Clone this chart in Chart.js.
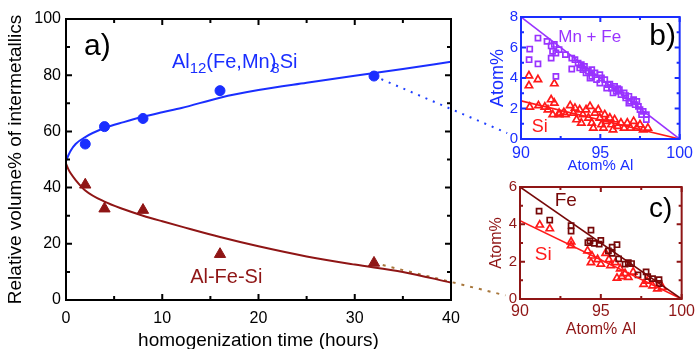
<!DOCTYPE html>
<html>
<head>
<meta charset="utf-8">
<script src="https://cdn.jsdelivr.net/npm/chart.js@4.4.1/dist/chart.umd.min.js"></script>
<style>
  html, body { margin: 0; padding: 0; background: #fff; }
  #wrap { position: relative; width: 698px; height: 349px; overflow: hidden; }
  canvas { position: absolute; }
  #mainChart { left: 0; top: 0; }
  #insetB { left: 470px; top: 0; }
  #insetC { left: 470px; top: 175px; }
</style>
</head>
<body>
<div id="wrap">
  <canvas id="mainChart" width="698" height="349"></canvas>
  <canvas id="insetB" width="228" height="175"></canvas>
  <canvas id="insetC" width="228" height="174"></canvas>
</div>
<script>
// panel a) measured volume fractions
var sampleHours = [2, 4, 8, 16, 32];
var alFeMnSiMeasured = [55.5, 61.7, 64.6, 74.5, 79.7];
var alFeSiMeasured = [41, 32.5, 32, 16.3, 13.2];

// panel a) fitted curves
var fitHours = [0, 0.25, 0.5, 1, 2, 4, 6, 8, 10, 12, 16, 20, 25, 30, 35, 40];
var alFeMnSiFit = [49.5, 51.5, 53.2, 55.5, 58.0, 61.2, 63.3, 65.2, 66.8, 68.3, 72.0, 74.7, 77.3, 79.8, 82.2, 84.8];
var alFeSiFit = [48.5, 46.5, 45, 42.7, 39.0, 35.0, 32.3, 30.0, 28.0, 26.1, 22.4, 19.1, 15.5, 12.6, 10.0, 6.2];

// panel b) Al12(Fe,Mn)3Si particles
var bMnFeAl = [91.07, 90.55, 90.51, 91.07, 92.2, 93.2, 91.64, 91.9, 92.1, 91.99, 92.2, 91.9, 92.4, 92.8, 93.2, 93.4, 93.6, 93.8, 93.9, 94.0, 94.25, 94.46, 94.46, 94.66, 94.76, 94.97, 94.97, 95.28, 95.5, 95.6, 95.7, 95.9, 96.0, 96.2, 96.3, 96.5, 96.6, 96.8, 96.9, 97.1, 97.2, 97.4, 97.5, 97.7, 97.9, 94.1, 93.7, 94.35, 95.07, 95.4, 95.8, 96.1, 96.6, 96.8, 97.3, 97.6, 97.9];
var bMnFe = [6.62, 5.9, 5.2, 4.92, 4.11, 4.59, 6.4, 6.1, 6.2, 5.75, 5.64, 5.3, 5.86, 5.53, 5.3, 5.2, 4.98, 4.87, 4.55, 4.76, 4.44, 4.55, 4.11, 4.33, 3.89, 4.22, 3.67, 3.89, 3.56, 3.6, 3.34, 3.45, 3.13, 3.23, 2.91, 3.02, 2.69, 2.8, 2.47, 2.58, 2.25, 2.14, 1.92, 1.81, 1.6, 4.33, 4.66, 4.0, 4.0, 3.34, 3.02, 3.3, 2.85, 2.36, 2.47, 1.6, 1.27];
var bSiAl = [90.5, 90.5, 91.07, 92.1, 90.55, 91.1, 91.5, 91.9, 92.1, 91.7, 92.0, 92.4, 92.8, 93.1, 93.3, 93.5, 93.7, 93.9, 94.1, 94.25, 94.35, 94.46, 94.66, 94.87, 94.97, 95.07, 95.28, 95.38, 95.6, 95.7, 95.9, 96.1, 96.3, 96.5, 96.7, 96.9, 97.1, 97.3, 97.5, 97.7, 98.0, 93.4, 93.8, 94.56, 95.2, 95.8, 92.4, 92.7];
var bSi = [4.15, 3.5, 3.9, 3.63, 2.1, 2.19, 2.1, 2.58, 2.36, 1.92, 1.6, 1.6, 1.6, 2.19, 1.7, 1.27, 1.92, 1.6, 1.92, 1.38, 2.14, 1.05, 1.7, 1.92, 1.38, 0.94, 1.6, 1.16, 1.38, 0.94, 1.27, 0.83, 1.05, 0.72, 1.05, 0.72, 1.16, 0.72, 0.94, 0.61, 0.72, 2.03, 1.05, 0.72, 0.72, 0.61, 1.7, 1.75];
var bLineAl = [90, 100];
var bMnFeLine = [8, 0];
var bSiLine = [2.5, 0];

// panel c) Al-Fe-Si particles
var cFeAl = [91.18, 91.84, 93.16, 93.16, 94.39, 94.33, 94.6, 95.0, 94.9, 95.47, 95.7, 96.0, 95.7, 96.1, 96.7, 96.9, 96.5, 97.8, 97.9, 98.6, 98.2, 98.6, 94.2, 97.3];
var cFe = [4.71, 4.23, 3.93, 3.64, 3.69, 3.11, 2.98, 3.14, 2.94, 2.58, 2.78, 2.91, 2.45, 2.15, 1.95, 1.9, 1.87, 1.45, 1.2, 1.04, 1.09, 0.83, 3.02, 1.29];
var cSiAl = [91.22, 91.84, 93.16, 93.16, 94.18, 94.45, 94.39, 94.8, 95.0, 95.5, 95.6, 95.9, 96.0, 96.2, 96.5, 96.7, 97.0, 97.65, 97.86, 98.2, 98.5, 98.8, 95.3, 96.3];
var cSi = [3.97, 3.77, 3.07, 2.86, 2.58, 2.31, 1.95, 2.12, 1.87, 2.12, 1.79, 1.95, 1.12, 1.62, 1.37, 1.16, 1.45, 0.79, 0.96, 0.71, 0.55, 0.63, 2.45, 1.2];
var cLineAl = [90, 100];
var cFeLine = [6, 0];
var cSiLine = [4.2, 0];

var FONT = '"Liberation Sans", Arial, sans-serif';
var BLUE = '#1a2eff';
var MAROON = '#8f1515';
var DARK = '#760808';
var PURPLE = '#9933ff';
var RED = '#ff1a1a';

function xy(xs, ys) {
  return xs.map(function (x, i) { return {x: x, y: ys[i]}; });
}

// box around the plot with inward ticks on all four sides
function makeFrame(o) {
  return {
    id: 'frame',
    afterDatasetsDraw: function (chart) {
      var ctx = chart.ctx, a = chart.chartArea, sx = chart.scales.x, sy = chart.scales.y;
      ctx.save();
      ctx.strokeStyle = o.color;
      ctx.lineWidth = o.width;
      ctx.strokeRect(a.left, a.top, a.right - a.left, a.bottom - a.top);
      ctx.beginPath();
      var v, len, p, k;
      for (k = 0; sx.min + k * o.minorX <= sx.max + 1e-9; k++) {
        v = sx.min + k * o.minorX;
        len = (k % o.everyX === 0) ? o.majorLen : o.minorLen;
        p = sx.getPixelForValue(v);
        ctx.moveTo(p, a.bottom); ctx.lineTo(p, a.bottom - len);
        ctx.moveTo(p, a.top); ctx.lineTo(p, a.top + len);
      }
      for (k = 0; sy.min + k * o.minorY <= sy.max + 1e-9; k++) {
        v = sy.min + k * o.minorY;
        len = (k % o.everyY === 0) ? o.majorLen : o.minorLen;
        p = sy.getPixelForValue(v);
        ctx.moveTo(a.left, p); ctx.lineTo(a.left + len, p);
        ctx.moveTo(a.right, p); ctx.lineTo(a.right - len, p);
      }
      ctx.stroke();
      ctx.restore();
    }
  };
}

// text placed at data coordinates, parts may be subscripts
function makeLabels(items) {
  return {
    id: 'labels',
    afterDatasetsDraw: function (chart) {
      var ctx = chart.ctx;
      items.forEach(function (it) {
        var x = chart.scales.x.getPixelForValue(it.x);
        var y = chart.scales.y.getPixelForValue(it.y);
        ctx.save();
        ctx.fillStyle = it.color;
        ctx.textBaseline = 'alphabetic';
        ctx.textAlign = 'left';
        it.parts.forEach(function (p) {
          ctx.font = (p.sub ? it.subSize : it.size) + 'px ' + FONT;
          x += p.dx || 0;
          ctx.fillText(p.t, x, y + (p.sub ? it.subDrop : 0));
          x += ctx.measureText(p.t).width;
        });
        ctx.restore();
      });
    }
  };
}

function axisX(min, max, step, color, size, pad, height, title, tsize, tpad) {
  return {
    type: 'linear', min: min, max: max,
    afterFit: function (s) { s.height = height; },
    grid: {display: false, drawTicks: false},
    border: {display: false},
    ticks: {stepSize: step, padding: pad, color: color, font: {size: size, family: FONT}, maxRotation: 0},
    title: {display: true, text: title, color: color, font: {size: tsize, family: FONT, lineHeight: 1}, padding: {top: 0, bottom: tpad}}
  };
}

function axisY(min, max, step, color, size, pad, width, title, tsize, tpad) {
  return {
    type: 'linear', min: min, max: max,
    afterFit: function (s) { s.width = width; },
    grid: {display: false, drawTicks: false},
    border: {display: false},
    ticks: {stepSize: step, padding: pad, color: color, font: {size: size, family: FONT}},
    title: {display: true, text: title, color: color, font: {size: tsize, family: FONT, lineHeight: 1}, padding: {top: tpad, bottom: 0}}
  };
}

function lineSet(xs, ys, color, w) {
  return {data: xy(xs, ys), showLine: true, borderColor: color, borderWidth: w, pointRadius: 0};
}

function pointSet(xs, ys, color, style, r) {
  return {data: xy(xs, ys), showLine: false, pointStyle: style, pointRadius: r,
          borderColor: color, backgroundColor: 'rgba(0,0,0,0)', pointBorderWidth: 1.7};
}

var insetB = new Chart(document.getElementById('insetB'), {
  type: 'scatter',
  data: {datasets: [
    lineSet(bLineAl, bMnFeLine, PURPLE, 1.6),
    lineSet(bLineAl, bSiLine, RED, 1.6),
    pointSet(bMnFeAl, bMnFe, PURPLE, 'rect', 3.6),
    pointSet(bSiAl, bSi, RED, 'triangle', 4.2)
  ]},
  options: {
    responsive: false, animation: false,
    layout: {padding: {top: 17, right: 15, bottom: 0, left: 0}},
    plugins: {legend: {display: false}, tooltip: {enabled: false}},
    scales: {
      x: axisX(90, 100, 5, BLUE, 16, 5, 36, 'Atom% Al', 15, 2),
      y: axisY(0, 8, 2, BLUE, 15, 3, 51, 'Atom%', 18, 19)
    }
  },
  plugins: [
    makeFrame({color: BLUE, width: 2, minorX: 2.5, everyX: 2, minorY: 1, everyY: 2, majorLen: 5, minorLen: 3}),
    makeLabels([
      {x: 92.35, y: 6.38, color: PURPLE, size: 17, parts: [{t: 'Mn + Fe'}]},
      {x: 98.09, y: 6.16, color: '#000', size: 30, parts: [{t: 'b)'}]},
      {x: 90.68, y: 0.48, color: RED, size: 18, parts: [{t: 'Si'}]}
    ])
  ]
});

var insetC = new Chart(document.getElementById('insetC'), {
  type: 'scatter',
  data: {datasets: [
    lineSet(cLineAl, cFeLine, DARK, 1.6),
    lineSet(cLineAl, cSiLine, RED, 1.6),
    pointSet(cFeAl, cFe, DARK, 'rect', 3.6),
    pointSet(cSiAl, cSi, RED, 'triangle', 4.2)
  ]},
  options: {
    responsive: false, animation: false,
    layout: {padding: {top: 3, right: 15, bottom: 0, left: 0}},
    plugins: {legend: {display: false}, tooltip: {enabled: false}},
    scales: {
      x: axisX(90, 100, 5, MAROON, 16, 3, 50, 'Atom% Al', 16, 11),
      y: axisY(0, 6, 2, MAROON, 15, 3, 50, 'Atom%', 16, 19)
    }
  },
  plugins: [
    makeFrame({color: MAROON, width: 2, minorX: 2.5, everyX: 2, minorY: 1, everyY: 2, majorLen: 5, minorLen: 3}),
    makeLabels([
      {x: 92.15, y: 4.96, color: DARK, size: 19, parts: [{t: 'Fe'}]},
      {x: 90.92, y: 2.1, color: RED, size: 19, parts: [{t: 'Si'}]},
      {x: 97.98, y: 4.41, color: '#000', size: 28, parts: [{t: 'c)'}]}
    ])
  ]
});

// dotted links from the last measurement to the inset corners
var links = [
  {dataset: 2, inset: insetB, color: '#2040ff', dash: [2, 6]},
  {dataset: 3, inset: insetC, color: '#a8773c', dash: [3, 6]}
];

var connectors = {
  id: 'connectors',
  beforeDatasetsDraw: function (chart) {
    var ctx = chart.ctx;
    links.forEach(function (l) {
      var pts = chart.getDatasetMeta(l.dataset).data;
      var start = pts[pts.length - 1];
      var c = l.inset.canvas, area = l.inset.chartArea;
      var ex = c.offsetLeft + area.left, ey = c.offsetTop + area.bottom;
      var dx = ex - start.x, dy = ey - start.y, d = Math.sqrt(dx * dx + dy * dy);
      var f = (d - 15) / d;
      ctx.save();
      ctx.strokeStyle = l.color;
      ctx.lineWidth = 2;
      ctx.setLineDash(l.dash);
      ctx.beginPath();
      ctx.moveTo(start.x, start.y);
      ctx.lineTo(start.x + dx * f, start.y + dy * f);
      ctx.stroke();
      ctx.restore();
    });
  }
};

var mainChart = new Chart(document.getElementById('mainChart'), {
  type: 'scatter',
  data: {datasets: [
    {data: xy(fitHours, alFeMnSiFit), showLine: true, borderColor: BLUE, borderWidth: 2, pointRadius: 0, cubicInterpolationMode: 'monotone'},
    {data: xy(fitHours, alFeSiFit), showLine: true, borderColor: MAROON, borderWidth: 2, pointRadius: 0, cubicInterpolationMode: 'monotone'},
    {data: xy(sampleHours, alFeMnSiMeasured), pointStyle: 'circle', pointRadius: 5, backgroundColor: BLUE, borderColor: BLUE},
    {data: xy(sampleHours, alFeSiMeasured), pointStyle: 'triangle', pointRadius: 6.5, backgroundColor: MAROON, borderColor: MAROON}
  ]},
  options: {
    responsive: false, animation: false,
    layout: {padding: {top: 19, right: 247, bottom: 0, left: 0}},
    plugins: {legend: {display: false}, tooltip: {enabled: false}},
    scales: {
      x: axisX(0, 40, 10, '#000', 16, 9, 49, 'homogenization time (hours)', 19, -1),
      y: axisY(0, 100, 20, '#000', 16, 5, 66, 'Relative volume% of intermetallics', 19, 6)
    }
  },
  plugins: [
    connectors,
    makeFrame({color: '#000', width: 2, minorX: 5, everyX: 2, minorY: 10, everyY: 2, majorLen: 6, minorLen: 4}),
    makeLabels([
      {x: 1.87, y: 87.2, color: '#000', size: 30, parts: [{t: 'a)'}]},
      {x: 11.0, y: 82.5, color: BLUE, size: 20, subSize: 15, subDrop: 5,
       parts: [{t: 'Al'}, {t: '12', sub: true}, {t: '(Fe,Mn'}, {t: ')'}, {t: '8', sub: true, dx: -5}, {t: 'Si'}]},
      {x: 12.9, y: 6.2, color: MAROON, size: 20, parts: [{t: 'Al-Fe-Si'}]}
    ])
  ]
});
</script>
</body>
</html>
